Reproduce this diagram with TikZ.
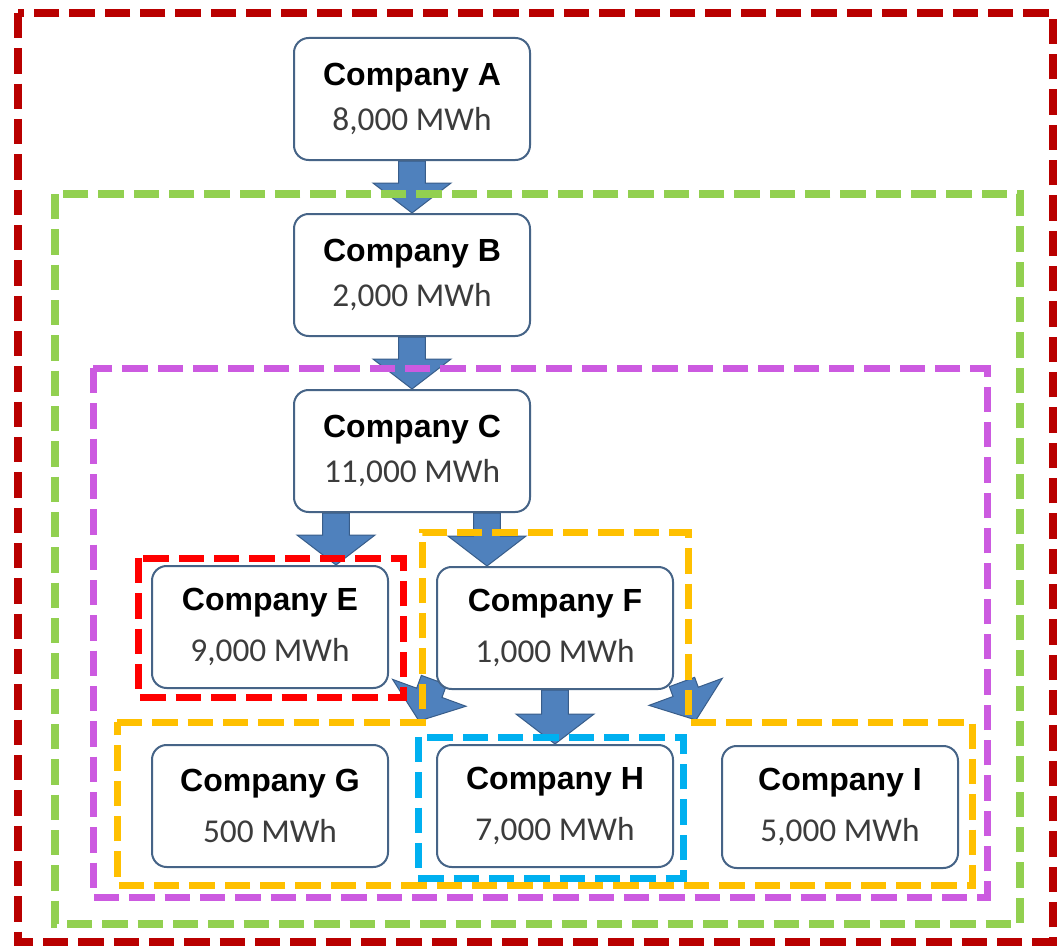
\documentclass[tikz,border=0pt]{standalone}
\usepackage{fontspec}
\newfontfamily\titlefont{Liberation Sans}
\newfontfamily\valuefont{Carlito}
\usetikzlibrary{calc,backgrounds}

\definecolor{arrowblue}{RGB}{79,129,189}
\definecolor{arrowedge}{RGB}{56,93,138}
\definecolor{boxedge}{RGB}{70,100,135}
\definecolor{valuegray}{RGB}{60,60,60}
\definecolor{darkred}{RGB}{185,0,0}
\definecolor{leafgreen}{RGB}{146,208,80}
\definecolor{orchid}{RGB}{204,90,224}
\definecolor{amber}{RGB}{255,192,0}
\definecolor{brightred}{RGB}{255,0,0}
\definecolor{skyblue}{RGB}{0,176,240}

% fat block arrow from #1 to #2
\def\sw{10.1pt}
\def\hw{29.3pt}
\def\hl{22.5pt}
\newcommand{\bigarrow}[2]{%
\path (#1) coordinate (ba1) (#2) coordinate (ba2);
\coordinate (hb) at ($(ba2)!\hl!(ba1)$);
\filldraw[fill=arrowblue, draw=arrowedge, line width=0.75pt]
  ($(ba1)!\sw!90:(ba2)$) -- ($(hb)!\sw!90:(ba2)$) -- ($(hb)!\hw!90:(ba2)$)
  -- (ba2) -- ($(hb)!\hw!-90:(ba2)$) -- ($(hb)!\sw!-90:(ba2)$)
  -- ($(ba1)!\sw!-90:(ba2)$) -- cycle;
}

\begin{document}
\begin{tikzpicture}[x=0.75pt, y=-0.75pt,
  firm/.style={draw=boxedge, fill=white, line width=1.5pt, rounded corners=11pt,
    minimum width=177pt, minimum height=91.5pt, align=center,
    font=\titlefont\bfseries\fontsize{24}{34}\selectfont},
  frame/.style={line width=5.25pt, dash pattern=on 19pt off 7.5pt}]

\useasboundingbox (0,0) rectangle (1057,949);

% companies
\foreach \n/\x/\y/\v in {A/412/99/{8,000}, B/412/275/{2,000}, C/412/451/{11,000}}
\node[firm] (\n) at (\x,\y) {Company \n\\{\valuefont\mdseries\color{valuegray}\fontsize{25}{34}\selectfont \v{} MWh}};

\foreach \n/\x/\y/\v in {E/270/627/{9,000}, F/555/628/{1,000}, G/270/806/500, H/555/806/{7,000}, I/840/807/{5,000}}
\node[firm] (\n) at (\x,\y) {Company \n\\[4pt]{\valuefont\mdseries\color{valuegray}\fontsize{25}{34}\selectfont \v{} MWh}};

%%% arrows, behind the boxes
\begin{scope}[on background layer]
\fill[white] (0,0) rectangle (1057,949);
\coordinate (CE) at ($(C.south west)+(43,0)$);
\coordinate (CF) at ($(C.south west)+(194,0)$);
\bigarrow{A.south}{B.north}
\bigarrow{B.south}{C.north}
\bigarrow{CE}{CE |- E.north}
\bigarrow{CF}{CF |- F.north}
\bigarrow{F.south}{H.north}
\bigarrow{$(F.south west)+(-2,-10)$}{$(G.north east)+(30,-23)$}
\bigarrow{$(F.south east)+(8,-8)$}{$(I.north west)+(-25,-25)$}
\end{scope}

%%% dashed frames
\draw[frame, darkred, line width=6pt] (18,13) rectangle (1053,942);
\draw[frame, leafgreen, line width=6pt] (55,194) rectangle (1020,924);
\draw[frame, orchid] (93,368) rectangle (987,897);
\draw[frame, amber] (117,722) -- (422,722) -- (422,532) -- (688,532) -- (688,722)
  -- (972,722) -- (972,885) -- (117,885) -- cycle;
\draw[frame, brightred] (138,558) rectangle (403,697);
\draw[frame, skyblue] (418,737) rectangle (683,878);

\end{tikzpicture}
\end{document}
